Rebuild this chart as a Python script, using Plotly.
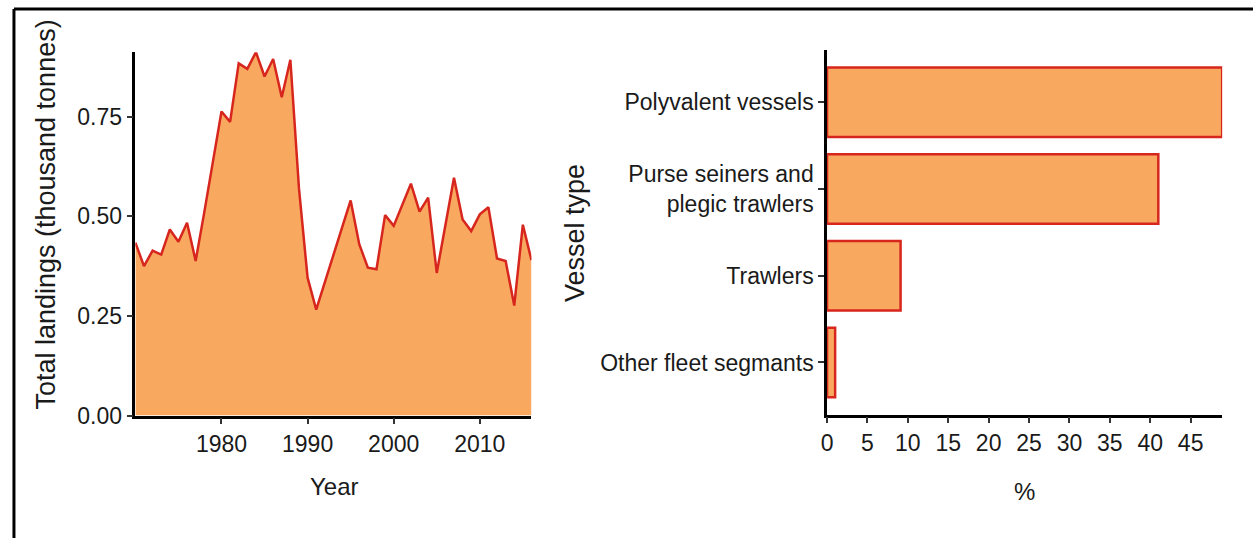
import plotly.graph_objects as go

years = list(range(1970, 2017))
landings = [0.434, 0.375, 0.414, 0.404, 0.467, 0.436, 0.484, 0.388, 0.51, 0.635,
            0.763, 0.737, 0.884, 0.870, 0.912, 0.851, 0.895, 0.799, 0.893, 0.57,
            0.346, 0.266, 0.335, 0.403, 0.472, 0.540, 0.430, 0.371, 0.367, 0.503,
            0.476, 0.530, 0.582, 0.512, 0.547, 0.358, 0.477, 0.597, 0.492, 0.463,
            0.505, 0.523, 0.394, 0.388, 0.276, 0.479, 0.390]
y_ticks = [0.0, 0.25, 0.50, 0.75]
y_ticklabels = ["0.00", "0.25", "0.50", "0.75"]
x_ticks = [1980, 1990, 2000, 2010]

vessel_types = ["Polyvalent vessels", "Purse seiners and<br>plegic trawlers", "Trawlers", "Other fleet segmants"]
vessel_pct = [48.9, 41.0, 9.1, 1.0]
pct_ticks = [0, 5, 10, 15, 20, 25, 30, 35, 40, 45]

FILL = "#F9A95F"
LINE = "#D7261E"
NARROW = "Liberation Sans Narrow, Arial Narrow, Liberation Sans, Arial, sans-serif"
FONT = "Liberation Sans, Arial, sans-serif"
W, H = 1253, 553
REF_H = 538

def px_x(p):
    return p / W

def px_y(p):
    return 1 - p / REF_H

fig = go.Figure()
fig.add_trace(go.Scatter(x=years, y=landings, mode="lines", fill="tozeroy",
                         fillcolor=FILL, line=dict(color=LINE, width=2.5),
                         xaxis="x", yaxis="y", showlegend=False, hoverinfo="skip"))
fig.add_trace(go.Bar(y=vessel_types, x=vessel_pct, orientation="h", width=0.8,
                     marker=dict(color=FILL, line=dict(color=LINE, width=2.5)),
                     xaxis="x2", yaxis="y2", showlegend=False, hoverinfo="skip"))

axis_common = dict(showline=True, linecolor="black", linewidth=2.5, ticks="outside",
                   ticklen=6, tickwidth=2, tickcolor="#333", showgrid=False, zeroline=False,
                   tickfont=dict(family=NARROW, size=23, color="#1a1a1a"))

fig.update_layout(
    width=W, height=H, autosize=False, margin=dict(l=0, r=0, t=0, b=0),
    paper_bgcolor="white", plot_bgcolor="white",
    xaxis=dict(domain=[px_x(130), px_x(528)], range=[1970, 2016], tickvals=x_ticks,
               anchor="y", **axis_common),
    yaxis=dict(domain=[px_y(414), px_y(52)], range=[0, 0.912], tickvals=y_ticks,
               ticktext=y_ticklabels, anchor="x", **axis_common),
    xaxis2=dict(domain=[px_x(825), px_x(1222)], range=[0, 48.9], tickvals=pct_ticks,
                anchor="y2", **axis_common),
    yaxis2=dict(domain=[px_y(413), px_y(50)], range=[3.6, -0.6], type="category",
                categoryorder="array", categoryarray=vessel_types, anchor="x2",
                **axis_common),
    bargap=0.2,
    font=dict(family=NARROW),
)

title_font_rot = dict(family=FONT, size=27, color="#1a1a1a")
title_font = dict(family=NARROW, size=24, color="#1a1a1a")
ann = dict(xref="paper", yref="paper", showarrow=False, xanchor="center", yanchor="middle")
fig.add_annotation(text="Total landings (thousand tonnes)", textangle=-90, x=px_x(40), y=px_y(214),
                   font=title_font_rot, **ann)
fig.add_annotation(text="Year", x=px_x(330), y=px_y(485), font=title_font, **ann)
fig.add_annotation(text="Vessel type", textangle=-90, x=px_x(572), y=px_y(232),
                   font=title_font_rot, **ann)
fig.add_annotation(text="%", x=px_x(1023), y=px_y(490), font=title_font, **ann)

# partial frame (left and top edges)
fig.add_shape(type="line", xref="paper", yref="paper", x0=px_x(8), x1=px_x(8), y0=0, y1=px_y(9),
              line=dict(color="black", width=3))
fig.add_shape(type="line", xref="paper", yref="paper", x0=px_x(8), x1=1, y0=px_y(9), y1=px_y(9),
              line=dict(color="black", width=3))

css_js = (
    "var s=document.createElement('style');"
    "s.innerHTML='html,body{margin:0;padding:0;overflow:hidden;}';"
    "document.head.appendChild(s);"
)
fig.write_html("out.html", config={"responsive": False, "displayModeBar": False},
               post_script=css_js)
